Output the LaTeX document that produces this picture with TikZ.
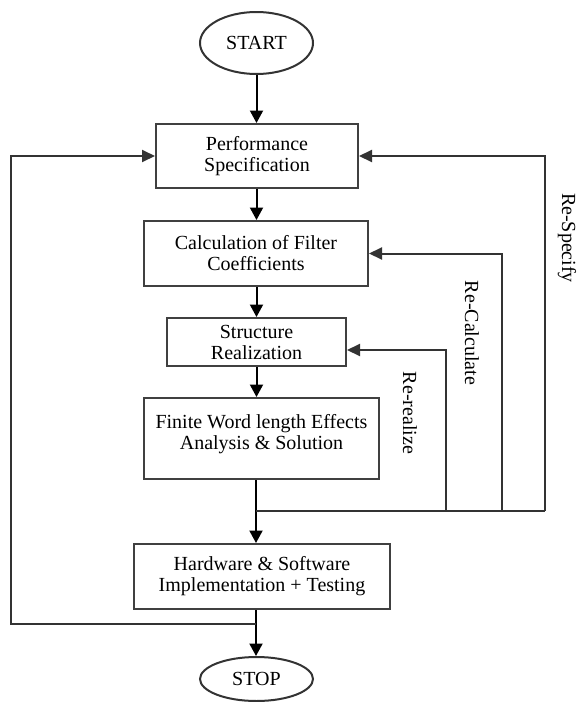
\documentclass[tikz,border=0pt]{standalone}
\usepackage{fontspec}
\setmainfont{Liberation Serif}
\usetikzlibrary{shapes,arrows.meta,positioning,calc}
\tikzstyle{block} = [draw=black!75, rectangle, align=center, inner sep=0pt, line width=1pt]
\tikzstyle{term} = [draw=black!80, ellipse, inner sep=0pt, line width=1pt]
\tikzstyle{line} = [draw, line width=1pt]
\tikzstyle{feed} = [draw=black!80, line width=1pt]
\tikzstyle{arrow} = [line, -{Triangle[length=6.25pt,width=6.5pt]}]
\tikzstyle{feedarrow} = [feed, -{Triangle[length=6.5pt,width=6pt]}]
\tikzstyle{tag} = [rotate=-90]
\begin{document}
\begin{tikzpicture}[x=0.5pt, y=-0.5pt, font=\fontsize{10}{10.5}\selectfont]
      \useasboundingbox (0,0) rectangle (578,702);
      \node[term, minimum width=56.5pt, minimum height=31pt] (start) at (256.5,43) {START};
      \node[block, minimum width=101pt, minimum height=32pt] (perf) at (257,156) {Performance\\Specification};
      \node[block, minimum width=112pt, minimum height=32.5pt] (calc) at (256,253.5) {Calculation of Filter\\Coefficients};
      \node[block, minimum width=89.5pt, minimum height=24pt] (struct) at (256.5,342) {Structure\\Realization};
      \node[block, minimum width=117.5pt, minimum height=40.5pt, text depth=7pt] (finite) at (261.5,438.5) {Finite Word length Effects\\Analysis \& Solution};
      \node[block, minimum width=128pt, minimum height=32.5pt] (hw) at (262,576.5) {Hardware \& Software\\Implementation + Testing};
      \node[term, minimum width=56.5pt, minimum height=22pt] (stop) at (256.5,679) {STOP};
      \coordinate (split) at (256,511);
      \coordinate (rereal) at (446,511);
      \coordinate (recalc) at (502,511);
      \coordinate (respec) at (545,511);
      \coordinate (back) at (256,624);
      \coordinate (lft) at (11,624);
      \draw[arrow] (start) -- (start |- perf.north);
      \draw[arrow] (perf.south -| start) -- (calc.north -| start);
      \draw[arrow] (calc.south -| start) -- (struct.north -| start);
      \draw[arrow] (struct.south -| start) -- (finite.north -| start);
      \draw[line] (finite.south -| split) -- (split);
      \draw[arrow] (split) -- (hw.north -| split);
      \draw[arrow] (hw.south -| split) -- (stop.north -| split);
      \draw[feed] (split) -- (respec);
      \draw[feedarrow] (rereal) |- ($(struct.east)+(0,8)$);
      \draw[feedarrow] (recalc) |- (calc.east);
      \draw[feedarrow] (respec) |- (perf.east);
      \draw[feedarrow] (back) -- (lft) |- (perf.west);
      \node[tag] (lspec) at (567,238) {Re-Specify};
      \node[tag] (lcalc) at (472,333) {Re-Calculate};
      \node[tag] (lreal) at (410,413) {Re-realize};
    \end{tikzpicture}
\end{document}
